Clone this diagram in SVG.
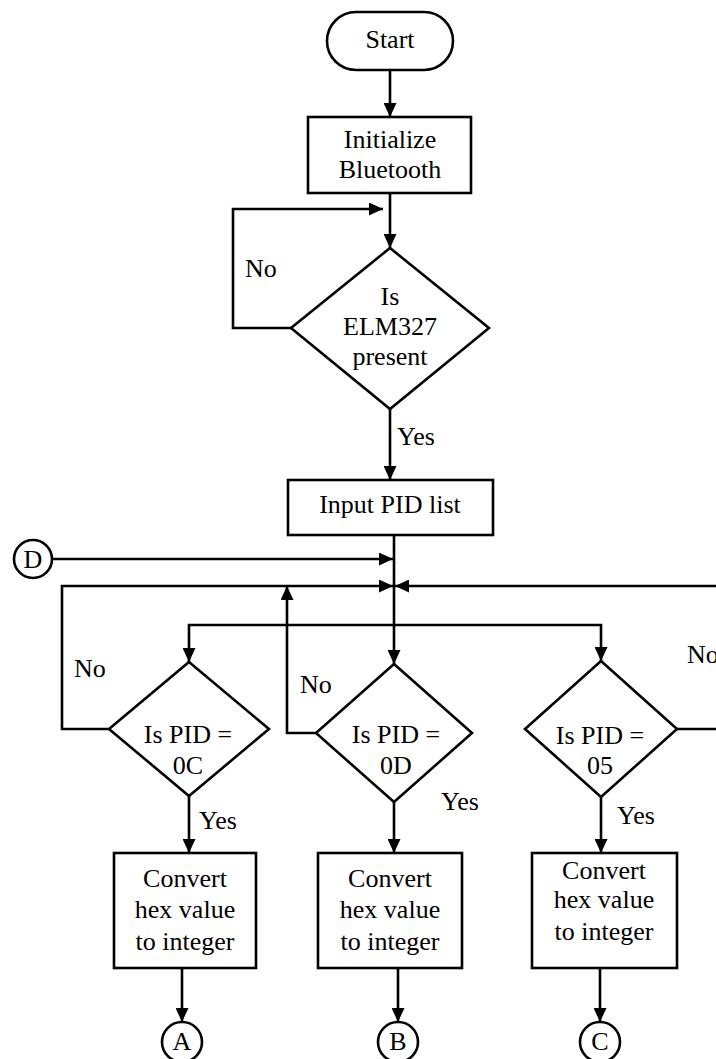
<svg xmlns="http://www.w3.org/2000/svg" width="716" height="1059" viewBox="0 0 716 1059">
<defs>
<style>
.s{fill:#fff;stroke:#000;stroke-width:2.6}
.c{fill:none;stroke:#000;stroke-width:2.6;marker-end:url(#ah)}
text{font-family:'Liberation Serif','Times New Roman',Times,serif;font-size:26px;fill:#000}
.m{text-anchor:middle}
</style>
<marker id="ah" viewBox="0 0 14 13" markerWidth="14" markerHeight="13" refX="14" refY="6.5" orient="auto" markerUnits="userSpaceOnUse">
<polygon points="0,0 14,6.5 0,13" fill="#000"/>
</marker>
</defs>
<rect width="716" height="1059" fill="#fff"/>
<g id="connectors">
<path class="c" d="M390 70 V117"/>
<path class="c" d="M390 193 V248"/>
<path class="c" d="M291 328 H233 V209 H383"/>
<path class="c" d="M390 409 V480"/>
<path class="c" d="M394 535 V664"/>
<path class="c" d="M52 559 H393"/>
<path class="c" d="M109 729 H62 V586 H393"/>
<path class="c" d="M316 733 H287 V586"/>
<path class="c" d="M677 729 H740 V586 H395"/>
<path class="c" d="M394 625 H189 V662"/>
<path class="c" d="M394 625 H601 V661"/>
<path class="c" d="M189 796 V853"/>
<path class="c" d="M394 802 V853"/>
<path class="c" d="M601 797 V853"/>
<path class="c" d="M182 968 V1022"/>
<path class="c" d="M398 968 V1022"/>
<path class="c" d="M600 968 V1022"/>
<text x="245" y="277">No</text>
<text x="397" y="445">Yes</text>
<text x="74" y="677">No</text>
<text x="300" y="693">No</text>
<text x="687" y="663">No</text>
<text x="199" y="829">Yes</text>
<text x="441" y="810">Yes</text>
<text x="617" y="824">Yes</text>
</g>
<g id="start">
<rect class="s" x="327" y="12" width="126" height="58" rx="29" ry="29"/>
<text class="m" x="390" y="48">Start</text>
</g>
<g id="init">
<rect class="s" x="308" y="117" width="163" height="76"/>
<text class="m" x="390" y="148">Initialize</text>
<text class="m" x="390" y="178">Bluetooth</text>
</g>
<g id="elm">
<polygon class="s" points="390,248 489,328 390,409 291,328"/>
<text class="m" x="390" y="305">Is</text>
<text class="m" x="390" y="335">ELM327</text>
<text class="m" x="390" y="365">present</text>
</g>
<g id="input">
<rect class="s" x="288" y="480" width="205" height="55"/>
<text class="m" x="390" y="513">Input PID list</text>
</g>
<g id="connD">
<circle class="s" cx="33" cy="559" r="19"/>
<text class="m" x="33" y="568">D</text>
</g>
<g id="pid0C">
<polygon class="s" points="189,662 269,729 189,796 109,729"/>
<text class="m" x="188" y="743">Is PID =</text>
<text class="m" x="188" y="774">0C</text>
</g>
<g id="pid0D">
<polygon class="s" points="394,664 472,733 394,802 316,733"/>
<text class="m" x="396" y="743">Is PID =</text>
<text class="m" x="396" y="774">0D</text>
</g>
<g id="pid05">
<polygon class="s" points="601,661 677,729 601,797 525,729"/>
<text class="m" x="600" y="744">Is PID =</text>
<text class="m" x="600" y="774">05</text>
</g>
<g id="conv1">
<rect class="s" x="114" y="853" width="142" height="115"/>
<text class="m" x="185" y="887">Convert</text>
<text class="m" x="185" y="918">hex value</text>
<text class="m" x="185" y="950">to integer</text>
</g>
<g id="conv2">
<rect class="s" x="318" y="853" width="144" height="115"/>
<text class="m" x="390" y="887">Convert</text>
<text class="m" x="390" y="918">hex value</text>
<text class="m" x="390" y="950">to integer</text>
</g>
<g id="conv3">
<rect class="s" x="532" y="853" width="145" height="115"/>
<text class="m" x="604" y="879">Convert</text>
<text class="m" x="604" y="908">hex value</text>
<text class="m" x="604" y="940">to integer</text>
</g>
<g id="connA">
<circle class="s" cx="182" cy="1042" r="20"/>
<text class="m" x="182" y="1050">A</text>
</g>
<g id="connB">
<circle class="s" cx="398" cy="1042" r="20"/>
<text class="m" x="398" y="1050">B</text>
</g>
<g id="connC">
<circle class="s" cx="600" cy="1042" r="20"/>
<text class="m" x="600" y="1050">C</text>
</g>
</svg>
